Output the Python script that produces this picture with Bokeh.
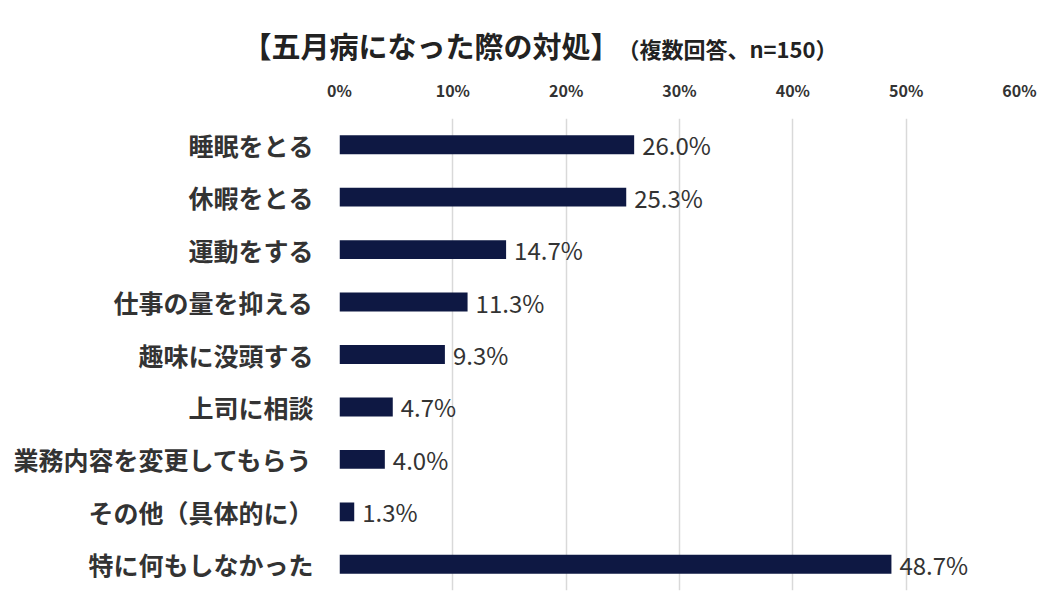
from bokeh.core.properties import value
from bokeh.embed import file_html
from bokeh.models import ColumnDataSource, FactorRange, FixedTicker
from bokeh.plotting import figure
from bokeh.resources import INLINE

# data (percent of respondents, n=150)
categories = [
    "睡眠をとる",
    "休暇をとる",
    "運動をする",
    "仕事の量を抑える",
    "趣味に没頭する",
    "上司に相談",
    "業務内容を変更してもらう",
    "その他（具体的に）",
    "特に何もしなかった",
]
shares = [26.0, 25.3, 14.7, 11.3, 9.3, 4.7, 4.0, 1.3, 48.7]
x_ticks = [0, 10, 20, 30, 40, 50, 60]
title_text = "【五月病になった際の対処】"
subtitle_text = "（複数回答、n=150）"

FONT = "Noto Sans CJK JP"
BAR = "#0e1843"
TEXT = "#333333"
W = 1045
TITLE_H = 70

# title strip: a bare figure whose frame fills it (annotations get clipped
# to the frame, so the titles are drawn as text glyphs here instead)
t = figure(width=W, height=TITLE_H, x_range=(0, W), y_range=(TITLE_H, 0),
           output_backend="svg", toolbar_location=None, tools="",
           min_border=0, outline_line_color=None)
t.axis.visible = False
t.grid.visible = False
t.text(x=[242], y=[44], text=[title_text], text_font=value(FONT),
       text_font_size="29px", text_font_style="bold", text_color="#222222",
       text_baseline="middle")
t.text(x=[617], y=[47], text=[subtitle_text], text_font=value(FONT),
       text_font_size="22px", text_font_style="bold", text_color="#222222",
       text_baseline="middle")

source = ColumnDataSource(dict(
    cat=categories,
    share=shares,
    label=["%.1f%%" % s for s in shares],
))

p = figure(
    width=W,
    height=597 - TITLE_H,
    y_range=FactorRange(*reversed(categories)),
    x_range=(0, 60),
    x_axis_location="above",
    output_backend="svg",
    toolbar_location=None,
    tools="",
    min_border_left=339,
    min_border_right=26,
    min_border_top=118 - TITLE_H,
    min_border_bottom=7,
)

p.hbar(y="cat", left=0, right="share", height=0.36, fill_color=BAR,
       line_color=None, source=source)

p.text(x="share", y="cat", text="label", source=source,
       x_offset=8, text_baseline="middle", text_align="left",
       text_font=value(FONT), text_font_size="24px", text_color=TEXT)

p.xaxis.ticker = FixedTicker(ticks=x_ticks)
p.xaxis.major_label_overrides = {t: "%d%%" % t for t in x_ticks}
p.xaxis.axis_line_color = None
p.xaxis.major_tick_line_color = None
p.xaxis.minor_tick_line_color = None
p.xaxis.major_label_standoff = 11
p.xaxis.major_label_text_font = FONT
p.xaxis.major_label_text_font_size = "16px"
p.xaxis.major_label_text_font_style = "bold"
p.xaxis.major_label_text_color = TEXT

p.yaxis.axis_line_color = None
p.yaxis.major_tick_line_color = None
p.yaxis.major_label_standoff = 20
p.yaxis.major_label_text_font = FONT
p.yaxis.major_label_text_font_size = "25px"
p.yaxis.major_label_text_font_style = "bold"
p.yaxis.major_label_text_color = TEXT

p.ygrid.grid_line_color = None
p.xgrid.grid_line_color = "#d9d9d9"
p.xgrid.grid_line_width = 1.5
p.outline_line_color = None
p.y_range.range_padding = 0

# two separate roots, so bokeh doesn't line the title strip's frame up with the chart's
open("out.html", "w").write(file_html([t, p], INLINE))
